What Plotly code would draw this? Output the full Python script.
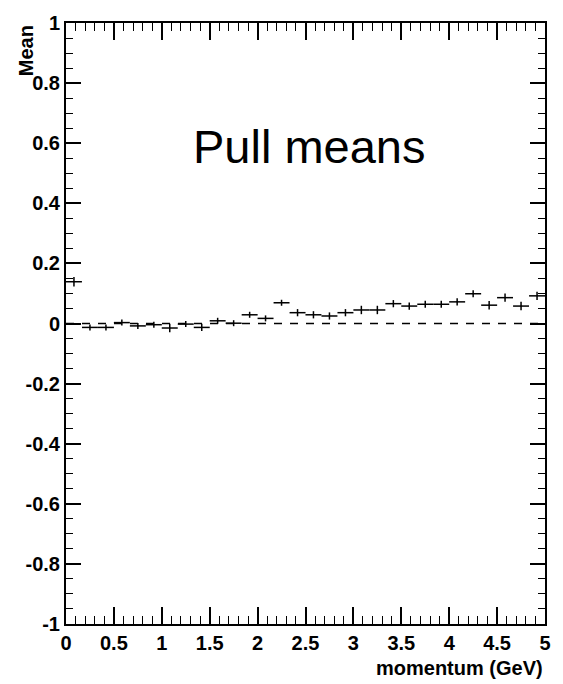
import plotly.graph_objects as go

# bin centres (GeV), 30 bins over 0-5 GeV
momentum = [0.083, 0.25, 0.417, 0.583, 0.75, 0.917, 1.083, 1.25, 1.417, 1.583,
            1.75, 1.917, 2.083, 2.25, 2.417, 2.583, 2.75, 2.917, 3.083, 3.25,
            3.417, 3.583, 3.75, 3.917, 4.083, 4.25, 4.417, 4.583, 4.75, 4.917]
half_width = [0.0833] * 30
pull_mean = [0.139, -0.013, -0.013, 0.003, -0.008, -0.004, -0.015, -0.002, -0.013, 0.009,
             0.001, 0.029, 0.017, 0.069, 0.036, 0.029, 0.025, 0.036, 0.045, 0.045,
             0.066, 0.058, 0.064, 0.064, 0.072, 0.099, 0.061, 0.086, 0.058, 0.092]
pull_err = [0.016, 0.010, 0.010, 0.010, 0.010, 0.010, 0.014, 0.010, 0.012, 0.010,
            0.010, 0.010, 0.010, 0.010, 0.012, 0.012, 0.012, 0.012, 0.014, 0.014,
            0.012, 0.012, 0.012, 0.012, 0.012, 0.012, 0.014, 0.014, 0.014, 0.014]

ref_x = [0, 5]
ref_y = [0, 0]

x_ticks = [0, 0.5, 1, 1.5, 2, 2.5, 3, 3.5, 4, 4.5, 5]
x_labels = ["0", "0.5", "1", "1.5", "2", "2.5", "3", "3.5", "4", "4.5", "5"]
y_ticks = [-1, -0.8, -0.6, -0.4, -0.2, 0, 0.2, 0.4, 0.6, 0.8, 1]
y_labels = ["-1", "-0.8", "-0.6", "-0.4", "-0.2", "0", "0.2", "0.4", "0.6", "0.8", "1"]

FONT = "Liberation Sans"

fig = go.Figure()
fig.add_trace(go.Scatter(
    x=ref_x, y=ref_y, mode="lines",
    line=dict(color="black", width=1.5, dash="8px,8px"),
    hoverinfo="skip", showlegend=False))
fig.add_trace(go.Scatter(
    x=momentum, y=pull_mean, mode="markers",
    marker=dict(size=1, color="black"),
    error_x=dict(type="data", array=half_width, color="black", thickness=1.5, width=0),
    error_y=dict(type="data", array=pull_err, color="black", thickness=1.5, width=0),
    showlegend=False))

axis_common = dict(
    showline=True, linecolor="black", linewidth=2, mirror="ticks",
    ticks="inside", tickcolor="black", tickwidth=1.5,
    showgrid=False, zeroline=False,
    tickfont=dict(family=FONT, size=20, color="black", weight="bold"),
)

fig.update_xaxes(range=[0, 5], tickmode="array", tickvals=x_ticks, ticktext=x_labels,
                 ticklen=17,
                 minor=dict(ticks="inside", tickmode="linear", tick0=0, dtick=0.1,
                            ticklen=8, tickcolor="black", tickwidth=1.2),
                 **axis_common)
fig.update_yaxes(range=[-1, 1], tickmode="array", tickvals=y_ticks, ticktext=y_labels,
                 ticklen=15,
                 minor=dict(ticks="inside", tickmode="linear", tick0=0, dtick=0.05,
                            ticklen=7, tickcolor="black", tickwidth=1.2),
                 **axis_common)

fig.add_annotation(text="Pull means", x=2.54, y=0.59, xref="x", yref="y",
                   showarrow=False, font=dict(family=FONT, size=47, color="black"))
fig.add_annotation(text="momentum (GeV)", x=1.0, y=-0.074, xref="paper", yref="paper",
                   xanchor="right", yanchor="middle", showarrow=False,
                   font=dict(family=FONT, size=20, color="black", weight="bold"))
fig.add_annotation(text="Mean", x=-0.0845, y=0.954, xref="paper", yref="paper",
                   xanchor="center", yanchor="middle", textangle=-90, showarrow=False,
                   font=dict(family=FONT, size=20, color="black", weight="bold"))

fig.update_layout(
    width=563, height=684,
    margin=dict(l=66, r=12, t=19, b=60),
    plot_bgcolor="white", paper_bgcolor="white",
    showlegend=False,
)

fig.write_html("out.html")
